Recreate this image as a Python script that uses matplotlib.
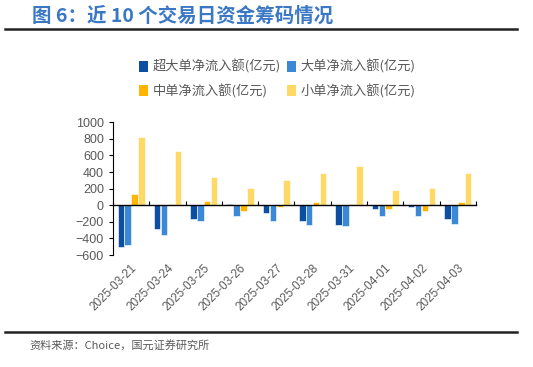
import matplotlib
matplotlib.use('Agg')
import matplotlib.pyplot as plt
from matplotlib.lines import Line2D
from matplotlib.patches import Patch
import numpy as np

plt.rcParams['font.family'] = ['Liberation Sans', 'Noto Sans CJK SC', 'DejaVu Sans']

dates = ['2025-03-21', '2025-03-24', '2025-03-25', '2025-03-26', '2025-03-27',
         '2025-03-28', '2025-03-31', '2025-04-01', '2025-04-02', '2025-04-03']
super_large = [-502, -291, -171, 20, -88, -187, -239, -40, -20, -171]
large = [-474, -355, -187, -135, -187, -239, -255, -124, -124, -223]
medium = [140, 20, 56, -68, -20, 36, 20, -40, -72, 44]
small = [821, 653, 339, 207, 307, 390, 474, 187, 207, 390]

names = ['超大单净流入额(亿元)', '大单净流入额(亿元)', '中单净流入额(亿元)', '小单净流入额(亿元)']
colors = ['#0B4EA2', '#3A88D6', '#FFB400', '#FFD966']
series = [super_large, large, medium, small]

fig = plt.figure(figsize=(5.33, 3.67), dpi=100)
ax = fig.add_axes([0.212, 0.305, 0.681, 0.362])

x = np.arange(len(dates))
w = 0.18
for i, (vals, c) in enumerate(zip(series, colors)):
    ax.bar(x + (i - 1.5) * 0.19, vals, width=w, color=c, edgecolor='white', linewidth=0.4, zorder=2)

ax.set_xlim(-0.5, len(dates) - 0.5)
ax.set_ylim(-600, 1000)
ax.set_yticks(range(-600, 1001, 200))
ax.tick_params(axis='y', labelsize=9, labelcolor='#595959', length=3, width=0.8, direction='out')
ax.spines['top'].set_visible(False)
ax.spines['right'].set_visible(False)
ax.spines['left'].set_linewidth(0.8)
ax.spines['bottom'].set_position(('data', 0))
ax.spines['bottom'].set_linewidth(1.0)
ax.set_xticks(np.arange(-0.5, len(dates)))
ax.tick_params(axis='x', direction='in', length=3, width=0.8, labelbottom=False)

sec = ax.secondary_xaxis(0)
sec.spines['bottom'].set_visible(False)
sec.set_xticks(x)
sec.set_xticklabels(dates, rotation=45, ha='right', rotation_mode='anchor')
sec.tick_params(length=0, labelsize=8.5, labelcolor='#595959', pad=5)

# title and rules
fig.text(0.06, 0.955, '图 6：近 10 个交易日资金筹码情况', fontsize=14, fontweight='bold',
         color='#3A78C4', family=['Noto Sans CJK SC', 'DejaVu Sans'], va='center')
fig.add_artist(Line2D([0.01, 0.97], [0.922, 0.922], color='#222222', lw=1.8))
fig.add_artist(Line2D([0.01, 0.97], [0.095, 0.095], color='#222222', lw=1.8))
fig.text(0.056, 0.058, '资料来源：Choice，国元证券研究所', fontsize=8, color='#595959',
         family=['Noto Sans CJK SC', 'DejaVu Sans'], va='center')

# legend filled row by row
order = [0, 2, 1, 3]
handles = [Patch(facecolor=colors[i]) for i in order]
labels = [names[i] for i in order]
leg = fig.legend(handles, labels, loc='center', bbox_to_anchor=(0.52, 0.785), ncol=2,
                 frameon=False, handlelength=0.7, handleheight=0.9,
                 handletextpad=0.3, columnspacing=0.5, labelspacing=0.8,
                 prop={'family': ['Noto Sans CJK SC', 'DejaVu Sans'], 'size': 9.5})
for t in leg.get_texts():
    t.set_color('#595959')

fig.savefig('out.png', dpi=100)
